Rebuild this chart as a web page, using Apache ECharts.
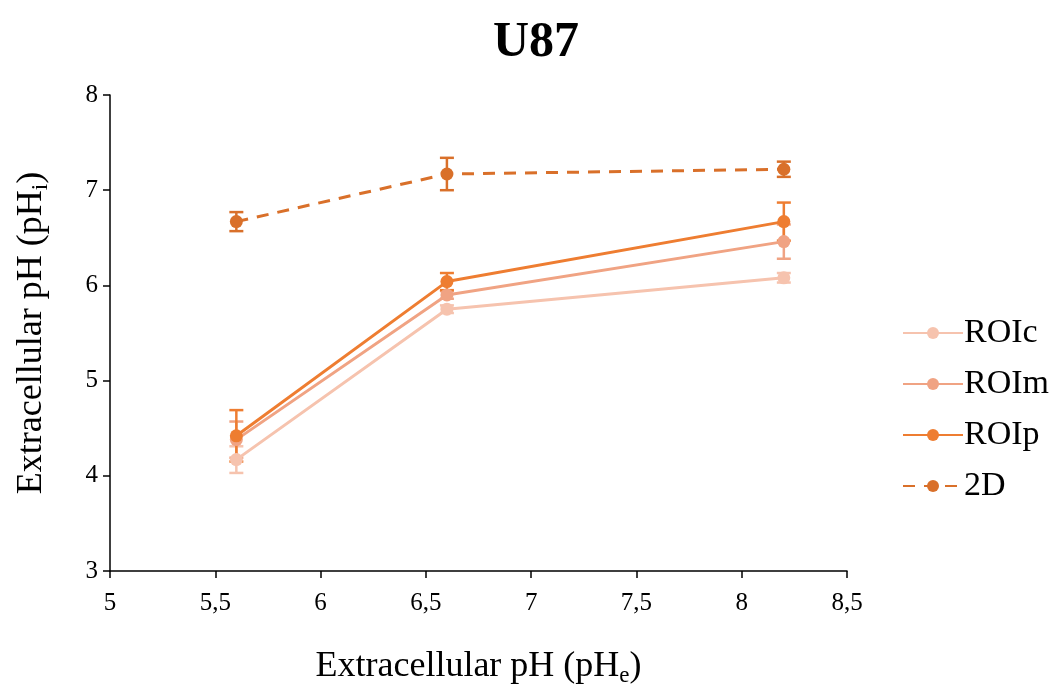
<!DOCTYPE html>
<html>
<head>
<meta charset="utf-8">
<script src="https://cdn.jsdelivr.net/npm/echarts@6/dist/echarts.min.js"></script>
<style>html,body{margin:0;padding:0;background:#fff}#c{width:1054px;height:692px}</style>
</head>
<body>
<div id="c"></div>
<script>
var xValues = [5.6, 6.6, 8.2];
var roicValues = [4.17, 5.75, 6.08];
var roicErr = [0.14, 0.04, 0.05];
var roimValues = [4.38, 5.90, 6.46];
var roimErr = [0.19, 0.04, 0.18];
var roipValues = [4.42, 6.04, 6.67];
var roipErr = [0.27, 0.09, 0.20];
var d2Values = [6.67, 7.17, 7.22];
var d2Err = [0.10, 0.17, 0.08];
var seriesNames = ['ROIc', 'ROIm', 'ROIp', '2D'];
var colors = ['#f6c3ae', '#f0a383', '#ee7d31', '#d9702a'];
var font = '"Liberation Serif", "Times New Roman", serif';

function pairs(vals) { return xValues.map(function (x, i) { return [x, vals[i]]; }); }
function errData(vals, errs) { return xValues.map(function (x, i) { return [x, vals[i] - errs[i], vals[i] + errs[i]]; }); }

function errSeries(vals, errs, color) {
  return {
    type: 'custom',
    data: errData(vals, errs),
    z: 1,
    silent: true,
    renderItem: function (params, api) {
      var lo = api.coord([api.value(0), api.value(1)]);
      var hi = api.coord([api.value(0), api.value(2)]);
      var w = 7;
      var st = { stroke: color, lineWidth: 2.5 };
      return {
        type: 'group',
        children: [
          { type: 'line', shape: { x1: lo[0], y1: lo[1], x2: hi[0], y2: hi[1] }, style: st },
          { type: 'line', shape: { x1: lo[0] - w, y1: lo[1], x2: lo[0] + w, y2: lo[1] }, style: st },
          { type: 'line', shape: { x1: hi[0] - w, y1: hi[1], x2: hi[0] + w, y2: hi[1] }, style: st }
        ]
      };
    }
  };
}

function lineSeries(name, vals, color, dashed) {
  return {
    name: name,
    type: 'line',
    data: pairs(vals),
    symbol: 'circle',
    symbolSize: 13,
    z: 2,
    itemStyle: { color: color },
    lineStyle: { color: color, width: 3, type: dashed ? [12, 9] : 'solid' }
  };
}

var nameRich = {
  a: { fontFamily: font, fontSize: 36, color: '#000', lineHeight: 42 },
  s: { fontFamily: font, fontSize: 23, color: '#000', lineHeight: 42, padding: [17, 0, 0, 0] }
};

var chart = echarts.init(document.getElementById('c'));
chart.setOption({
  animation: false,
  backgroundColor: '#fff',
  title: {
    text: 'U87',
    left: 531, top: 13, textAlign: 'center',
    textStyle: { fontFamily: font, fontWeight: 'bold', fontSize: 50, color: '#000' }
  },
  grid: { left: 110, right: 207, top: 95, bottom: 120 },
  legend: {
    orient: 'vertical',
    left: 897, top: 311,
    itemWidth: 60, itemHeight: 15,
    itemGap: 17,
    data: seriesNames,
    textStyle: { fontFamily: font, fontSize: 34, color: '#000', padding: [0, 0, 0, -4] }
  },
  xAxis: {
    type: 'value',
    min: 5, max: 8.5, interval: 0.5,
    splitLine: { show: false },
    axisLine: { lineStyle: { color: '#000', width: 1.5 } },
    axisTick: { show: true, length: 7, lineStyle: { color: '#000', width: 1.5 } },
    axisLabel: {
      fontFamily: font, fontSize: 25, color: '#000', margin: 20,
      formatter: function (v) { return String(v).replace('.', ','); }
    },
    name: '{a|Extracellular pH (pH}{s|e}{a|)}',
    nameLocation: 'middle',
    nameGap: 75,
    nameTextStyle: { rich: nameRich }
  },
  yAxis: {
    type: 'value',
    min: 3, max: 8, interval: 1,
    splitLine: { show: false },
    axisLine: { show: true, lineStyle: { color: '#000', width: 1.5 } },
    axisTick: { show: true, length: 7, lineStyle: { color: '#000', width: 1.5 } },
    axisLabel: { fontFamily: font, fontSize: 25, color: '#000', margin: 12 },
    name: '{a|Extracellular pH (pH}{s|i}{a|)}',
    nameLocation: 'middle',
    nameGap: 57,
    nameTextStyle: { rich: nameRich }
  },
  series: [
    errSeries(roicValues, roicErr, colors[0]),
    errSeries(roimValues, roimErr, colors[1]),
    errSeries(roipValues, roipErr, colors[2]),
    errSeries(d2Values, d2Err, colors[3]),
    lineSeries('ROIc', roicValues, colors[0], false),
    lineSeries('ROIm', roimValues, colors[1], false),
    lineSeries('ROIp', roipValues, colors[2], false),
    lineSeries('2D', d2Values, colors[3], true)
  ]
});
</script>
</body>
</html>
